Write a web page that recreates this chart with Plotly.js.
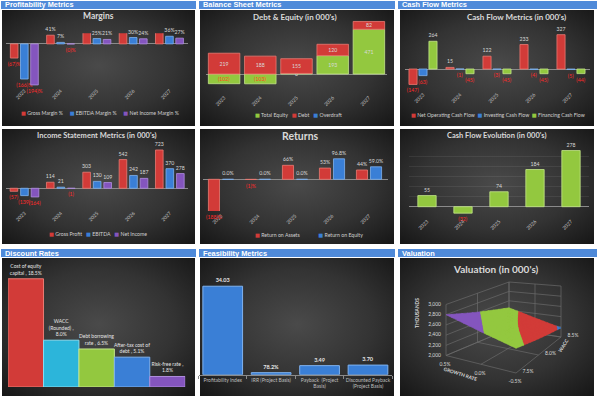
<!DOCTYPE html>
<html><head><meta charset="utf-8">
<script src="https://cdn.plot.ly/plotly-3.0.1.min.js"></script>
<style>html,body{margin:0;padding:0;background:#fff;}#chart{width:600px;height:397px;}</style>
</head><body><div id="chart"></div>
<script>
// ---------------- DATA ----------------
const years = ['2023', '2024', '2025', '2026', '2027'];

// Margins (%)
const grossMargin = [-67, 41, 58, 70, 70];
const ebitdaMargin = [-166, 7, 25, 30, 36];
const netIncomeMargin = [-194, -0.4, 21, 24, 27];

// Debt & Equity (000's)
const totalEquity = [-102, -103, 6, 193, 471];
const debt = [219, 188, 155, 120, 82];
const overdraft = [0, 0, 0, 0, 0];

// Cash Flow Metrics (000's)
const netOperatingCF = [-147, 15, 122, 233, 327];
const investingCF = [-63, -1, -3, -4, -5];
const financingCF = [264, -45, -45, -45, -44];

// Income Statement (000's)
const grossProfit = [-57, 114, 303, 542, 723];
const ebitda = [-139, 21, 130, 242, 370];
const netIncome = [-164, -1, 109, 187, 278];

// Returns (%)
const returnOnAssets = [-188, -1, 66, 53, 44];
const returnOnEquity = [0, 0, 0, 96.8, 59.0];

// Cash Flow Evolution (000's)
const netCashFlow = [55, -32, 74, 184, 278];

// Discount Rates (%)
const rateNames = ['Cost of equity<br>capital', 'WACC<br>(Rounded)', 'Debt borrowing<br>rate', 'After-tax cost of<br>debt', 'Risk-free rate'];
const rateValueOnNewLine = [false, true, false, false, true];
const rateValues = [18.5, 8.0, 6.5, 5.1, 1.8];

// Feasibility Metrics
const feasNames = ['Profitability Index', 'IRR (Project Basis)', 'Payback  (Project<br>Basis)', 'Discounted Payback<br>(Project Basis)'];
const feasValues = [34.03, 0.782, 3.49, 3.70];
const feasLabels = ['34.03', '78.2%', '3.49', '3.70'];

// Valuation surface (000's): rows = growth rate, columns = WACC
const waccRates = [7.5, 8.0, 8.5];
const growthRates = [-0.5, 0.0, 0.5];
const valuation = [
  [2450, 2306, 2178],
  [2613, 2450, 2306],
  [2800, 2613, 2450]
];
const valuationTicks = [2000, 2200, 2400, 2600, 2800, 3000];

// ---------------- STYLE ----------------
const W = 600, H = 397;
const FONT = 'Lato, "Open Sans", "DejaVu Sans", sans-serif';
const HFONT = '"Liberation Sans", Arial, sans-serif';
const RED = '#d23b38', RED_L = '#ea7a72';
const BLUE = '#3a7fd6', BLUE_L = '#7fb2ef';
const PURPLE = '#8455be', PURPLE_L = '#b08ede';
const GREEN = '#93c83f', GREEN_L = '#c4e68a';
const CYAN = '#2cb5da', CYAN_L = '#86dcf2';
const LBL = '#d9d9d9', NEG = '#ff2a2a', TICK = '#bfbfbf', HEADER = '#4f8ad9';

const px = v => v / W;
const py = v => 1 - v / H;
const xdom = (l, r) => [px(l), px(r)];
const ydom = (t, b) => [py(b), py(t)];
const an = n => (n === 1 ? '' : String(n));

const paren = v => (v < 0 ? '(' + Math.abs(Math.round(v)) + ')' : String(Math.round(v)));
const pct = v => paren(v) + '%';
const pct1 = v => (v < 0 ? '(' + Math.abs(v).toFixed(1) + ')%' : v.toFixed(1) + '%');
const tcol = v => (v < 0 ? NEG : LBL);

const traces = [];
const layout = {
  width: W, height: H, margin: {l: 0, r: 0, t: 0, b: 0},
  paper_bgcolor: '#ffffff', plot_bgcolor: 'rgba(0,0,0,0)',
  barmode: 'group', showlegend: false, hovermode: false,
  font: {family: FONT, color: LBL, size: 5},
  images: [], shapes: [], annotations: []
};

function panel(l, t, r, b) {
  const svg = "<svg xmlns='http://www.w3.org/2000/svg' width='200' height='130' viewBox='0 0 200 130' preserveAspectRatio='none'><defs><radialGradient id='g' cx='50%' cy='48%' r='72%'><stop offset='0' stop-color='#4a4a4a'/><stop offset='0.55' stop-color='#333333'/><stop offset='1' stop-color='#161616'/></radialGradient></defs><rect width='200' height='130' fill='url(#g)'/></svg>";
  layout.images.push({source: 'data:image/svg+xml;charset=utf-8,' + encodeURIComponent(svg),
    xref: 'paper', yref: 'paper', x: px(l), y: py(t), sizex: (r - l) / W, sizey: (b - t) / H,
    sizing: 'stretch', xanchor: 'left', yanchor: 'top', layer: 'below'});
}
function header(l, t, r, b, text) {
  layout.shapes.push({type: 'rect', xref: 'paper', yref: 'paper', x0: px(l), x1: px(r), y0: py(b), y1: py(t),
    fillcolor: HEADER, line: {width: 0}, layer: 'below'});
  layout.annotations.push({xref: 'paper', yref: 'paper', x: px(l + 2), y: py((t + b) / 2), xanchor: 'left', yanchor: 'middle',
    text: '<b>' + text + '</b>', showarrow: false, font: {family: HFONT, size: 7.4, color: '#ffffff'}});
}
function title(xc, yc, text, size) {
  layout.annotations.push({xref: 'paper', yref: 'paper', x: px(xc), y: py(yc), xanchor: 'center', yanchor: 'middle',
    text: '<b>' + text + '</b>', showarrow: false, font: {family: FONT, size: size, color: '#d9d9d9'}});
}
function legend(xc, yc, names, colors, gap) {
  const sp = '\u00a0'.repeat(gap || 3);
  const text = names.map((n, i) => '<span style="color:' + colors[i] + '">\u25A0</span>\u00a0' + n).join(sp);
  layout.annotations.push({xref: 'paper', yref: 'paper', x: px(xc), y: py(yc), xanchor: 'center', yanchor: 'middle',
    text: text, showarrow: false, font: {family: FONT, size: 5.2, color: '#d0d0d0'}});
}
function catAxes(n, l, r, t, b, yrange, xextra, yextra) {
  layout['xaxis' + an(n)] = Object.assign({domain: xdom(l, r), anchor: 'y' + an(n), type: 'category',
    range: [-0.5, 4.5], showgrid: false, zeroline: false, showline: false, ticks: '', tickangle: -45,
    tickfont: {size: 5, color: TICK, family: FONT}, fixedrange: true}, xextra || {});
  layout['yaxis' + an(n)] = Object.assign({domain: ydom(t, b), anchor: 'x' + an(n), range: yrange,
    showticklabels: false, showgrid: false, zeroline: true, zerolinecolor: '#8a8a8a', zerolinewidth: 1,
    ticks: '', fixedrange: true}, yextra || {});
}
function bar(n, x, y, color, lineColor, center, width, text, textColors, extra) {
  traces.push(Object.assign({type: 'bar', x: x, y: y, xaxis: 'x' + an(n), yaxis: 'y' + an(n),
    width: width, offset: center - width / 2,
    marker: {color: color, line: {color: lineColor, width: 0.8}},
    text: text, textposition: 'outside', textangle: 0, constraintext: 'none', cliponaxis: false,
    textfont: {size: 5.2, color: textColors, family: FONT}, hoverinfo: 'skip', showlegend: false}, extra || {}));
}
// label for a bar that runs past the lower end of its axis: placed at the axis limit
function clippedLabels(n, values, center, range, fmt) {
  values.forEach((v, i) => {
    if (v < range[0]) layout.annotations.push({xref: 'x' + an(n), yref: 'y' + an(n), x: i + center, y: range[0],
      yanchor: 'top', yshift: -1, text: fmt(v), showarrow: false, font: {size: 5.2, color: NEG, family: FONT}});
  });
}

// ---------------- PANELS & HEADERS ----------------
const COLS = [[1, 196], [199, 395], [398, 597]];
const PCOLS = [[2, 195], [200, 394], [400, 594]];
[[10, 126], [129, 244], [258, 396]].forEach(r => PCOLS.forEach(c => panel(c[0], r[0], c[1], r[1])));
header(COLS[0][0], 1, COLS[0][1], 9, 'Profitability Metrics');
header(COLS[1][0], 1, COLS[1][1], 9, 'Balance Sheet Metrics');
header(COLS[2][0], 1, COLS[2][1], 9, 'Cash Flow Metrics');
header(COLS[0][0], 249, COLS[0][1], 257, 'Discount Rates');
header(COLS[1][0], 249, COLS[1][1], 257, 'Feasibility Metrics');
header(COLS[2][0], 249, COLS[2][1], 257, 'Valuation');

// ---------------- 1. MARGINS ----------------
const MARGIN_RANGE = [-200, 50];
catAxes(1, 6.2, 187.6, 33.3, 86.2, MARGIN_RANGE);
bar(1, years, grossMargin, RED, RED_L, -0.28, 0.21, grossMargin.map(v => (v > MARGIN_RANGE[1] ? '' : pct(v))), grossMargin.map(tcol));
bar(1, years, ebitdaMargin, BLUE, BLUE_L, 0, 0.21, ebitdaMargin.map(pct), ebitdaMargin.map(tcol));
bar(1, years, netIncomeMargin, PURPLE, PURPLE_L, 0.28, 0.21, netIncomeMargin.map(pct), netIncomeMargin.map(tcol));
title(98, 16, 'Margins', 8.5);
legend(100, 113, ['Gross Margin %', 'EBITDA Margin %', 'Net Income Margin %'], [RED, BLUE, PURPLE], 5);

// ---------------- 2. DEBT & EQUITY ----------------
catAxes(2, 206, 387, 17, 93, [-200, 600]);
const equityBase = totalEquity.map(v => Math.max(v, 0));
bar(2, years, totalEquity, GREEN, GREEN_L, 0, 0.87, totalEquity.map(paren), totalEquity.map(v => (v < 0 ? '#ff4a1a' : LBL)),
  {textposition: 'inside', insidetextanchor: 'middle'});
bar(2, years, debt, RED, RED_L, 0, 0.87, debt.map(paren), debt.map(() => LBL),
  {base: equityBase, textposition: 'inside', insidetextanchor: 'middle'});
bar(2, years, overdraft, BLUE, BLUE, 0, 0.87, overdraft.map(() => ''), LBL, {marker: {color: BLUE, line: {width: 0}}});
title(295, 17, 'Debt &amp; Equity (in 000\'s)', 8);
legend(298, 115, ['Total Equity', 'Debt', 'Overdraft'], [GREEN, RED, BLUE], 3);

// ---------------- 3. CASH FLOW METRICS ----------------
catAxes(3, 404.5, 589.5, 27, 90, [-200, 400]);
bar(3, years, netOperatingCF, RED, RED_L, -0.27, 0.22, netOperatingCF.map(paren), netOperatingCF.map(tcol));
bar(3, years, investingCF, BLUE, BLUE_L, 0, 0.22, investingCF.map(paren), investingCF.map(tcol));
bar(3, years, financingCF, GREEN, GREEN_L, 0.27, 0.22, financingCF.map(paren), financingCF.map(tcol));
title(516, 17, 'Cash Flow Metrics (in 000\'s)', 8);
legend(498, 115, ['Net Operating Cash Flow', 'Investing Cash Flow', 'Financing Cash Flow'], [RED, BLUE, GREEN], 2);

// ---------------- 4. INCOME STATEMENT ----------------
catAxes(4, 6.3, 188, 145.9, 208.4, [-380, 800]);
bar(4, years, grossProfit, RED, RED_L, -0.29, 0.21, grossProfit.map(paren), grossProfit.map(tcol));
bar(4, years, ebitda, BLUE, BLUE_L, 0, 0.21, ebitda.map(paren), ebitda.map(tcol));
bar(4, years, netIncome, PURPLE, PURPLE_L, 0.29, 0.21, netIncome.map(paren), netIncome.map(tcol));
title(97, 135, 'Income Statement Metrics (in 000\'s)', 7.5);
legend(98, 234, ['Gross Profit', 'EBITDA', 'Net Income'], [RED, BLUE, PURPLE], 3);

// ---------------- 5. RETURNS ----------------
const RET_RANGE = [-150, 110];
catAxes(5, 202.5, 387.5, 156, 211.1, RET_RANGE);
bar(5, years, returnOnAssets, RED, RED_L, -0.19, 0.3, returnOnAssets.map(v => (v < RET_RANGE[0] ? '' : pct(v))), returnOnAssets.map(tcol));
bar(5, years, returnOnEquity, BLUE, BLUE_L, 0.19, 0.3, returnOnEquity.map(pct1), returnOnEquity.map(tcol));
clippedLabels(5, returnOnAssets, -0.19, RET_RANGE, pct);
title(300, 136, 'Returns', 10.5);
legend(309, 235, ['Return on Assets', 'Return on Equity'], [RED, BLUE], 14);

// ---------------- 6. CASH FLOW EVOLUTION ----------------
catAxes(6, 409, 589, 146.1, 216.8, [-50, 300], {}, {showgrid: true, dtick: 50, gridcolor: 'rgba(255,255,255,0.07)', gridwidth: 1});
bar(6, years, netCashFlow, GREEN, GREEN_L, 0, 0.51, netCashFlow.map(paren), netCashFlow.map(tcol));
title(496, 135, 'Cash Flow Evolution (in 000\'s)', 7.5);

// ---------------- 7. DISCOUNT RATES ----------------
const rateCats = rateNames.map(n => n.replace(/<br>/g, ' '));
const rateText = rateNames.map((n, i) => n + ' ,' + (rateValueOnNewLine[i] ? '<br>' : ' ') + rateValues[i].toFixed(1) + '%');
catAxes(7, 8.1, 185.2, 270, 387, [0, 20], {visible: false}, {visible: false, zeroline: false});
traces.push({type: 'bar', x: rateCats, y: rateValues, xaxis: 'x7', yaxis: 'y7', width: 1.0, offset: -0.5,
  marker: {color: [RED, CYAN, GREEN, BLUE, PURPLE], line: {color: [RED_L, CYAN_L, GREEN_L, BLUE_L, PURPLE_L], width: 1}},
  text: rateText, textposition: 'outside', textangle: 0, constraintext: 'none', cliponaxis: false,
  textfont: {size: 5, color: '#e6e6e6', family: FONT}, hoverinfo: 'skip', showlegend: false});

// ---------------- 8. FEASIBILITY METRICS ----------------
layout.xaxis8 = {domain: xdom(198.5, 392.2), anchor: 'y8', type: 'category', range: [-0.5, 3.5],
  showgrid: false, zeroline: false, showline: true, linecolor: '#8a8a8a', linewidth: 1,
  ticks: 'outside', tickson: 'boundaries', ticklen: 3, tickcolor: '#8a8a8a', tickangle: 0,
  tickfont: {size: 5, color: TICK, family: FONT}, fixedrange: true};
layout.yaxis8 = {domain: ydom(270.7, 374.7), anchor: 'x8', range: [0, 40], visible: false, fixedrange: true};
traces.push({type: 'bar', x: feasNames, y: feasValues, xaxis: 'x8', yaxis: 'y8', width: 0.82, offset: -0.41,
  marker: {color: BLUE, line: {color: BLUE_L, width: 1}},
  text: feasLabels.map(t => '<b>' + t + '</b>'), textposition: 'outside', textangle: 0, constraintext: 'none', cliponaxis: false,
  textfont: {size: 5.5, color: '#e6e6e6', family: FONT}, hoverinfo: 'skip', showlegend: false});

// ---------------- 9. VALUATION (3-D surface, projected onto a pixel-scaled 2-D axis) ----------------
layout.xaxis9 = {domain: [0, 1], anchor: 'y9', range: [0, W], visible: false, fixedrange: true};
layout.yaxis9 = {domain: [0, 1], anchor: 'x9', range: [H, 0], visible: false, fixedrange: true};
// floor corners of the 3-D box on screen (F = front, R = right, L = left, B = back) and vertical scale
const FLOOR = {F: [516, 373], R: [561, 337], L: [446, 355.5], B: [509, 329]};
const ZSCALE = {F: 55, R: 51, L: 51, B: 47};
const wMin = Math.min(...waccRates), wMax = Math.max(...waccRates);
const gMin = Math.min(...growthRates), gMax = Math.max(...growthRates);
const zMin = valuationTicks[0], zMax = valuationTicks[valuationTicks.length - 1];
function proj(w, g, z) {
  const s = (w - wMin) / (wMax - wMin), t = (g - gMin) / (gMax - gMin), h = (z - zMin) / (zMax - zMin);
  const bl = o => (1 - s) * (1 - t) * o.F + s * (1 - t) * o.R + (1 - s) * t * o.L + s * t * o.B;
  const X = bl({F: FLOOR.F[0], R: FLOOR.R[0], L: FLOOR.L[0], B: FLOOR.B[0]});
  const Y = bl({F: FLOOR.F[1], R: FLOOR.R[1], L: FLOOR.L[1], B: FLOOR.B[1]});
  return [X, Y - h * bl(ZSCALE)];
}
const lerpArr = (arr, f) => { const i = Math.min(Math.floor(f), arr.length - 2); const a = f - i; return arr[i] * (1 - a) + arr[i + 1] * a; };
function valAt(fi, fj) {
  const i = Math.min(Math.floor(fi), waccRates.length - 2), j = Math.min(Math.floor(fj), growthRates.length - 2);
  const a = fi - i, b = fj - j;
  return (1 - a) * (1 - b) * valuation[j][i] + a * (1 - b) * valuation[j][i + 1] + (1 - a) * b * valuation[j + 1][i] + a * b * valuation[j + 1][i + 1];
}
function clipHalf(poly, f) {
  const out = [];
  for (let k = 0; k < poly.length; k++) {
    const a = poly[k], b = poly[(k + 1) % poly.length], fa = f(a), fb = f(b);
    if (fa >= 0) out.push(a);
    if ((fa >= 0) !== (fb >= 0)) { const t = fa / (fa - fb); out.push(a.map((v, q) => v + (b[q] - v) * t)); }
  }
  return out;
}
// grid lines / box
const gl = {x: [], y: []};
function seg(p, q) { const a = proj(...p), b = proj(...q); gl.x.push(a[0], b[0], null); gl.y.push(a[1], b[1], null); }
valuationTicks.forEach(z => { seg([wMin, gMax, z], [wMax, gMax, z]); seg([wMax, gMax, z], [wMax, gMin, z]); });
waccRates.forEach(w => { seg([w, gMax, zMin], [w, gMax, zMax]); seg([w, gMin, zMin], [w, gMax, zMin]); });
growthRates.forEach(g => { seg([wMax, g, zMin], [wMax, g, zMax]); seg([wMin, g, zMin], [wMax, g, zMin]); });
traces.push({type: 'scatter', mode: 'lines', x: gl.x, y: gl.y, xaxis: 'x9', yaxis: 'y9',
  line: {color: '#6a6a6a', width: 0.7}, hoverinfo: 'skip', showlegend: false});
// banded surface
const BANDS = [[2000, 2200, BLUE], [2200, 2400, RED], [2400, 2600, GREEN], [2600, 3000, PURPLE]];
const SUB = 6;
const nI = (waccRates.length - 1) * SUB, nJ = (growthRates.length - 1) * SUB;
BANDS.forEach(([lo, hi, color]) => {
  const xs = [], ys = [];
  for (let i = 0; i < nI; i++) for (let j = 0; j < nJ; j++) {
    const pt = (a, b) => [a / SUB, b / SUB, valAt(a / SUB, b / SUB)];
    const p00 = pt(i, j), p10 = pt(i + 1, j), p11 = pt(i + 1, j + 1), p01 = pt(i, j + 1);
    [[p00, p10, p11], [p00, p11, p01]].forEach(tri => {
      let poly = clipHalf(tri, p => p[2] - lo);
      if (poly.length) poly = clipHalf(poly, p => hi - p[2]);
      if (poly.length < 3) return;
      poly.forEach(p => { const s = proj(lerpArr(waccRates, p[0]), lerpArr(growthRates, p[1]), p[2]); xs.push(s[0]); ys.push(s[1]); });
      const s0 = proj(lerpArr(waccRates, poly[0][0]), lerpArr(growthRates, poly[0][1]), poly[0][2]);
      xs.push(s0[0], null); ys.push(s0[1], null);
    });
  }
  traces.push({type: 'scatter', mode: 'lines', x: xs, y: ys, fill: 'toself', fillcolor: color,
    line: {color: color, width: 0.6}, xaxis: 'x9', yaxis: 'y9', hoverinfo: 'skip', showlegend: false});
});
// tick labels
const zl = valuationTicks.map(z => proj(wMin, gMax, z));
traces.push({type: 'scatter', mode: 'text', x: zl.map(p => p[0] - 5), y: zl.map(p => p[1]), text: valuationTicks.map(z => z.toLocaleString('en-US')),
  textposition: 'middle left', textfont: {size: 5, color: LBL, family: FONT}, xaxis: 'x9', yaxis: 'y9', hoverinfo: 'skip', showlegend: false, cliponaxis: false});
const gLab = growthRates.map(g => proj(wMin, g, zMin));
traces.push({type: 'scatter', mode: 'text', x: gLab.map(p => p[0] - 1), y: gLab.map(p => p[1] + 9), text: growthRates.map(g => g.toFixed(1) + '%'),
  textposition: 'middle center', textfont: {size: 5, color: LBL, family: FONT}, xaxis: 'x9', yaxis: 'y9', hoverinfo: 'skip', showlegend: false, cliponaxis: false});
const wLab = waccRates.map(w => proj(w, gMin, zMin));
traces.push({type: 'scatter', mode: 'text', x: wLab.map(p => p[0] + 12), y: wLab.map(p => p[1] - 1), text: waccRates.map(w => w.toFixed(1) + '%'),
  textposition: 'middle center', textfont: {size: 5, color: LBL, family: FONT}, xaxis: 'x9', yaxis: 'y9', hoverinfo: 'skip', showlegend: false, cliponaxis: false});
layout.annotations.push({xref: 'paper', yref: 'paper', x: px(422), y: py(330), text: '<b>THOUSANDS</b>', textangle: -90, showarrow: false,
  font: {size: 4.8, color: LBL, family: FONT}});
layout.annotations.push({xref: 'paper', yref: 'paper', x: px(481), y: py(385), text: '<b>GROWTH RATE</b>', textangle: 18, showarrow: false,
  font: {size: 4.8, color: LBL, family: FONT}});
layout.annotations.push({xref: 'paper', yref: 'paper', x: px(573), y: py(356), text: '<b>WACC</b>', textangle: -58, showarrow: false,
  font: {size: 4.8, color: LBL, family: FONT}});
title(496, 269, 'Valuation (in 000\'s)', 10);

Plotly.newPlot('chart', traces, layout, {staticPlot: true, displayModeBar: false});
</script>
</body></html>
